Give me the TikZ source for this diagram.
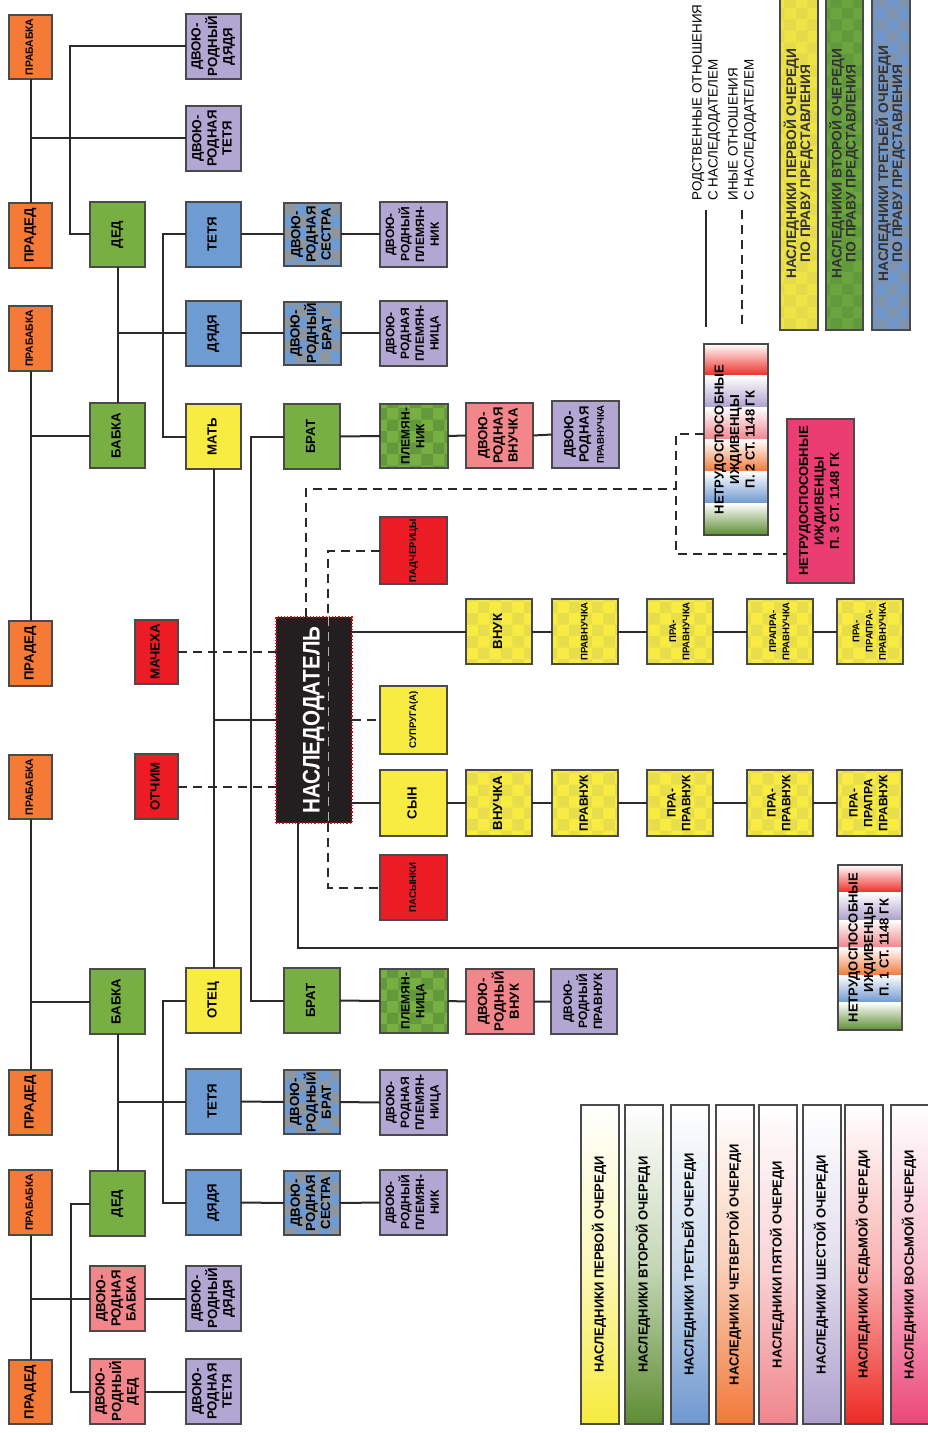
\documentclass[tikz,border=0pt]{standalone}
\usepackage{fontspec}
\setmainfont{Liberation Sans}
\usepackage{graphicx}
\usetikzlibrary{patterns}
\definecolor{cOr}{HTML}{F47A36}
\definecolor{cGr}{HTML}{78AF42}
\definecolor{cBl}{HTML}{6E9BD2}
\definecolor{cYe}{HTML}{F8EC42}
\definecolor{cLa}{HTML}{B2A6D2}
\definecolor{cPk}{HTML}{F3868B}
\definecolor{cRd}{HTML}{EC1C24}
\definecolor{cMg}{HTML}{EC3D72}
\definecolor{cBk}{HTML}{231F20}
\definecolor{cLn}{HTML}{2A2A2A}
\definecolor{cBd}{HTML}{4A4A4A}
\definecolor{pBl}{HTML}{8E96A0}
\definecolor{pGr}{HTML}{62993A}
\definecolor{pYe}{HTML}{E8DE4C}
\definecolor{tYe}{HTML}{EEE445}
\definecolor{tYp}{HTML}{E4DA4A}
\definecolor{tGr}{HTML}{6CA53F}
\definecolor{tGp}{HTML}{609A3A}
\definecolor{tBl}{HTML}{7097CC}
\definecolor{tBp}{HTML}{7F93AE}
\definecolor{gYe}{HTML}{F6EB3C}
\definecolor{gGr}{HTML}{5E8D33}
\definecolor{gBl}{HTML}{6F98CF}
\definecolor{gOr}{HTML}{F2793A}
\definecolor{gPk}{HTML}{F0858C}
\definecolor{gLa}{HTML}{ADA0CC}
\definecolor{gRd}{HTML}{EE2A24}
\definecolor{gMg}{HTML}{EC4678}
\newcommand\ftN{\fontsize{6.6}{7.6}\selectfont\bfseries}
\newcommand\ftM{\fontsize{6}{7.4}\selectfont\bfseries}
\newcommand\ftS{\fontsize{4.8}{6.6}\selectfont\bfseries}
\newcommand\ftP{\fontsize{5.2}{6}\selectfont\bfseries}
\newcommand\ftL{\fontsize{6.7}{8}\selectfont}
\newcommand\ftQ{\fontsize{6.5}{7.8}\selectfont\bfseries}
\newcommand\ftT{\fontsize{6.9}{7}\selectfont\bfseries}
\newcommand\Rt[1]{\rotatebox{90}{\begin{tabular}{@{}c@{}}#1\end{tabular}}}
\newcommand\Bx[7]{\node[bx,#2,minimum width={(#5-#3)*0.5pt},minimum height={(#6-#4)*0.5pt}] (#1) at ({(#3+#5)/2},{(#4+#6)/2}) {\Rt{#7}};}
\newcommand\Bands[4]{%
  \pgfmathsetmacro\bandh{(#4-#2)/6}%
  \foreach \bandc [count=\bandi from 0] in {gRd,gLa,gPk,gOr,gBl,gGr}{%
    \shade[top color=white,bottom color=\bandc] (#1,{#2+\bandi*\bandh}) rectangle (#3,{#2+(\bandi+1)*\bandh});}}
\begin{document}
\begin{tikzpicture}[x=0.5pt,y=-0.5pt,
  bx/.style={draw=cBd,line width=0.6pt,inner sep=0pt,outer sep=0pt,font=\ftN},
  orb/.style={fill=cOr}, grb/.style={fill=cGr}, blb/.style={fill=cBl},
  yeb/.style={fill=cYe}, lab/.style={fill=cLa}, pkb/.style={fill=cPk},
  rdb/.style={fill=cRd},
  blc/.style={preaction={fill=cBl},pattern=checkerboard,pattern color=pBl},
  grc/.style={preaction={fill=cGr},pattern=checkerboard,pattern color=pGr},
  yec/.style={preaction={fill=cYe},pattern=checkerboard,pattern color=pYe},
  tbar/.style 2 args={preaction={fill=#1},pattern=checkerboard,pattern color=#2,font=\ftT,text=black!80},
  gbar/.style={top color=white,bottom color=#1,middle color=#1!35,font=\ftQ},
  ln/.style={draw=cLn,line width=1pt},
  dl/.style={draw=cLn,line width=1pt,dash pattern=on 4.5pt off 3pt}]
\useasboundingbox (0,0) rectangle (927,1433);
\fill[white] (0,0) rectangle (927,1433);
% bus coordinates
\coordinate (x70) at (70,0);
\coordinate (x71) at (71,0);
\coordinate (x163) at (163,0);
\coordinate (x251) at (251,0);
\coordinate (x298) at (298,0);
\coordinate (x306) at (306,0);
\coordinate (x328) at (328,0);
\coordinate (x676) at (676,0);
\coordinate (y434) at (0,434);
\coordinate (y489) at (0,489);
\coordinate (y554) at (0,554);
% column A
\Bx{pb1}{orb,font=\ftP}{9}{15}{52}{79}{ПРАБАБКА}
\Bx{pd1}{orb}{9}{203}{52}{268}{ПРАДЕД}
\Bx{pb2}{orb,font=\ftP}{9}{306}{52}{371}{ПРАБАБКА}
\Bx{pd2}{orb}{9}{621}{52}{686}{ПРАДЕД}
\Bx{pb3}{orb,font=\ftP}{9}{755}{52}{819}{ПРАБАБКА}
\Bx{pd3}{orb}{9}{1070}{52}{1135}{ПРАДЕД}
\Bx{pb4}{orb,font=\ftP}{9}{1170}{52}{1235}{ПРАБАБКА}
\Bx{pd4}{orb}{9}{1360}{52}{1424}{ПРАДЕД}
% column B
\Bx{ded1}{grb}{90}{202}{145}{267}{ДЕД}
\Bx{bab1}{grb}{90}{403}{145}{468}{БАБКА}
\Bx{mach}{rdb}{135}{620}{178}{684}{МАЧЕХА}
\Bx{otch}{rdb}{135}{754}{178}{819}{ОТЧИМ}
\Bx{bab2}{grb}{90}{969}{145}{1034}{БАБКА}
\Bx{ded2}{grb}{90}{1171}{145}{1236}{ДЕД}
\Bx{dbab}{pkb}{90}{1266}{145}{1331}{ДВОЮ-\\РОДНАЯ\\БАБКА}
\Bx{dded}{pkb}{90}{1359}{145}{1424}{ДВОЮ-\\РОДНЫЙ\\ДЕД}
% column C
\Bx{ddya1}{lab}{186}{14}{241}{79}{ДВОЮ-\\РОДНЫЙ\\ДЯДЯ}
\Bx{dtet1}{lab}{186}{106}{241}{171}{ДВОЮ-\\РОДНАЯ\\ТЕТЯ}
\Bx{tet1}{blb}{186}{202}{241}{267}{ТЕТЯ}
\Bx{dya1}{blb}{186}{301}{241}{366}{ДЯДЯ}
\Bx{mat}{yeb}{186}{404}{241}{469}{МАТЬ}
\Bx{otec}{yeb}{186}{968}{241}{1033}{ОТЕЦ}
\Bx{tet2}{blb}{186}{1069}{241}{1134}{ТЕТЯ}
\Bx{dya2}{blb}{186}{1170}{241}{1235}{ДЯДЯ}
\Bx{ddya2}{lab}{186}{1266}{241}{1331}{ДВОЮ-\\РОДНЫЙ\\ДЯДЯ}
\Bx{dtet2}{lab}{186}{1359}{241}{1424}{ДВОЮ-\\РОДНАЯ\\ТЕТЯ}
% column D
\Bx{ds1}{blc}{284}{203}{341}{266}{ДВОЮ-\\РОДНАЯ\\СЕСТРА}
\Bx{db1}{blc}{284}{302}{341}{365}{ДВОЮ-\\РОДНЫЙ\\БРАТ}
\Bx{br1}{grb}{284}{404}{340}{469}{БРАТ}
\Bx{br2}{grb}{284}{968}{340}{1033}{БРАТ}
\Bx{db2}{blc}{284}{1070}{340}{1134}{ДВОЮ-\\РОДНЫЙ\\БРАТ}
\Bx{ds2}{blc}{284}{1171}{340}{1235}{ДВОЮ-\\РОДНАЯ\\СЕСТРА}
% column E
\Bx{dpl1}{lab,font=\ftM}{380}{202}{447}{267}{ДВОЮ-\\РОДНЫЙ\\ПЛЕМЯН-\\НИК}
\Bx{dpl2}{lab,font=\ftM}{380}{301}{447}{366}{ДВОЮ-\\РОДНАЯ\\ПЛЕМЯН-\\НИЦА}
\Bx{pl1}{grc,font=\ftM}{380}{404}{448}{468}{ПЛЕМЯН-\\НИК}
\Bx{padch}{rdb,font=\ftS}{380}{517}{447}{584}{ПАДЧЕРИЦЫ}
\Bx{supr}{yeb,font=\ftS}{380}{686}{447}{754}{СУПРУГА(А)}
\Bx{syn}{yeb}{380}{770}{447}{836}{СЫН}
\Bx{pas}{rdb,font=\ftS}{380}{855}{447}{920}{ПАСЫНКИ}
\Bx{pl2}{grc,font=\ftM}{380}{969}{448}{1033}{ПЛЕМЯН-\\НИЦА}
\Bx{dpl3}{lab,font=\ftM}{380}{1070}{447}{1135}{ДВОЮ-\\РОДНАЯ\\ПЛЕМЯН-\\НИЦА}
\Bx{dpl4}{lab,font=\ftM}{380}{1170}{447}{1235}{ДВОЮ-\\РОДНЫЙ\\ПЛЕМЯН-\\НИК}
% column F..J
\Bx{dvn1}{pkb}{466}{403}{533}{468}{ДВОЮ-\\РОДНАЯ\\ВНУЧКА}
\Bx{dpr1}{lab}{552}{401}{619}{468}{ДВОЮ-\\РОДНАЯ\\{\ftS ПРАВНУЧКА}}
\Bx{dvn2}{pkb}{466}{969}{534}{1034}{ДВОЮ-\\РОДНЫЙ\\ВНУК}
\Bx{dpr2}{lab,font=\ftM}{551}{969}{617}{1034}{ДВОЮ-\\РОДНЫЙ\\ПРАВНУК}
\Bx{vnuk}{yec}{466}{599}{532}{664}{ВНУК}
\Bx{pr1}{yec,font=\ftS}{552}{599}{618}{664}{ПРАВНУЧКА}
\Bx{ppr1}{yec,font=\ftS}{647}{599}{713}{664}{ПРА-\\ПРАВНУЧКА}
\Bx{pppr1}{yec,font=\ftS}{747}{599}{813}{664}{ПРАПРА-\\ПРАВНУЧКА}
\Bx{p4r1}{yec,font=\ftS}{837}{599}{903}{664}{ПРА-\\ПРАПРА-\\ПРАВНУЧКА}
\Bx{vnuchka}{yec}{466}{770}{532}{836}{ВНУЧКА}
\Bx{pr2}{yec,font=\ftM}{552}{770}{618}{836}{ПРАВНУК}
\Bx{ppr2}{yec,font=\ftM}{647}{770}{713}{836}{ПРА-\\ПРАВНУК}
\Bx{pppr2}{yec,font=\ftM}{747}{770}{813}{836}{ПРА-\\ПРАВНУК}
\Bx{p4r2}{yec,font=\ftM}{837}{770}{902}{836}{ПРА-\\ПРАПРА\\ПРАВНУК}
% disabled dependants
\Bands{704}{344}{768}{535}
\Bx{n2}{font=\ftQ}{704}{344}{768}{535}{НЕТРУДОСПОСОБНЫЕ\\ИЖДИВЕНЦЫ\\П. 2 СТ. 1148 ГК}
\Bx{n3}{fill=cMg,font=\ftQ}{787}{419}{854}{583}{НЕТРУДОСПОСОБНЫЕ\\ИЖДИВЕНЦЫ\\П. 3 СТ. 1148 ГК}
\Bands{838}{865}{902}{1030}
\Bx{n1}{font=\ftQ}{838}{865}{902}{1030}{НЕТРУДОСПОСОБНЫЕ\\ИЖДИВЕНЦЫ\\П. 1 СТ. 1148 ГК}
% testator
\draw[dl] (padch.west) -- (padch.west -| x328) -- (x328 |- 0,617);
\draw[dl] (x328 |- 0,823) -- (pas.west -| x328) -- (pas.west);
\Bx{nasl}{fill=cBk,draw=red,densely dotted,line width=1.2pt,text=white,font=\fontsize{12}{14}\selectfont\bfseries}{276}{617}{352}{823}{\scalebox{0.86}[1]{НАСЛЕДОДАТЕЛЬ}}
\draw[draw=gray!60,line width=0.5pt,dash pattern=on 4.5pt off 3pt] (x328 |- nasl.north) -- (x328 |- nasl.south);
% legends
\node[anchor=south west,inner sep=0pt,font=\ftL] (leg1) at (690,201) {\rotatebox{90}{\begin{tabular}{@{}l@{}}РОДСТВЕННЫЕ ОТНОШЕНИЯ\\С НАСЛЕДОДАТЕЛЕМ\end{tabular}}};
\node[anchor=south west,inner sep=0pt,font=\ftL] (leg2) at (726,201) {\rotatebox{90}{\begin{tabular}{@{}l@{}}ИНЫЕ ОТНОШЕНИЯ\\С НАСЛЕДОДАТЕЛЕМ\end{tabular}}};
\draw[ln] (leg1.south) ++(0,9) -- ++(0,117);
\draw[dl] (leg2.south) ++(0,9) -- ++(0,117);
\Bx{tb1}{tbar={tYe}{tYp}}{780}{-3}{818}{330}{НАСЛЕДНИКИ ПЕРВОЙ ОЧЕРЕДИ\\ПО ПРАВУ ПРЕДСТАВЛЕНИЯ}
\Bx{tb2}{tbar={tGr}{tGp}}{826}{-3}{863}{330}{НАСЛЕДНИКИ ВТОРОЙ ОЧЕРЕДИ\\ПО ПРАВУ ПРЕДСТАВЛЕНИЯ}
\Bx{tb3}{tbar={tBl}{tBp}}{872}{-3}{910}{330}{НАСЛЕДНИКИ ТРЕТЬЕЙ ОЧЕРЕДИ\\ПО ПРАВУ ПРЕДСТАВЛЕНИЯ}
\Bx{lg1}{gbar=gYe}{581}{1105}{619}{1424}{НАСЛЕДНИКИ ПЕРВОЙ ОЧЕРЕДИ}
\Bx{lg2}{gbar=gGr}{625}{1105}{663}{1424}{НАСЛЕДНИКИ ВТОРОЙ ОЧЕРЕДИ}
\Bx{lg3}{gbar=gBl}{671}{1105}{709}{1424}{НАСЛЕДНИКИ ТРЕТЬЕЙ ОЧЕРЕДИ}
\Bx{lg4}{gbar=gOr}{716}{1105}{754}{1424}{НАСЛЕДНИКИ ЧЕТВЕРТОЙ ОЧЕРЕДИ}
\Bx{lg5}{gbar=gPk}{759}{1105}{797}{1424}{НАСЛЕДНИКИ ПЯТОЙ ОЧЕРЕДИ}
\Bx{lg6}{gbar=gLa}{803}{1105}{841}{1424}{НАСЛЕДНИКИ ШЕСТОЙ ОЧЕРЕДИ}
\Bx{lg7}{gbar=gRd}{845}{1105}{883}{1424}{НАСЛЕДНИКИ СЕДЬМОЙ ОЧЕРЕДИ}
\Bx{lg8}{gbar=gMg}{891}{1105}{929}{1424}{НАСЛЕДНИКИ ВОСЬМОЙ ОЧЕРЕДИ}
% connectors, upper family
\draw[ln] (pb1.south) -- (pd1.north);
\draw[ln] (dtet1.west) -- (dtet1.west -| pb1.south);
\draw[ln] (ddya1.west) -- (ddya1.west -| x70) -- (ded1.west -| x70) -- (ded1.west);
\draw[ln] (ded1.south) -- (bab1.north);
\draw[ln] (dya1.west) -- (dya1.west -| ded1.south);
\draw[ln] (pb2.south) -- (pd2.north);
\draw[ln] (bab1.west) -- (bab1.west -| pb2.south);
\draw[ln] (tet1.west) -- (tet1.west -| x163) -- (mat.west -| x163) -- (mat.west);
\draw[ln] (tet1.east) -- (ds1.west) (ds1.east) -- (dpl1.west);
\draw[ln] (dya1.east) -- (db1.west) (db1.east) -- (dpl2.west);
\draw[ln] (mat.south) -- (otec.north);
\draw[ln] (br1.west) -- (br1.west -| x251) -- (br2.west -| x251) -- (br2.west);
\draw[ln] (br1.east) -- (pl1.west) (pl1.east) -- (dvn1.west) (dvn1.east) -- (dpr1.west);
\draw[ln] (br2.east) -- (pl2.west) (pl2.east) -- (dvn2.west) (dvn2.east) -- (dpr2.west);
% connectors around testator
\draw[ln] (mat.south |- nasl.west) -- (nasl.west);
\draw[dl] (mach.east) -- (mach.east -| nasl.west);
\draw[dl] (otch.east) -- (otch.east -| nasl.west);
\draw[dl] (nasl.north -| x306) -- (x306 |- y489) -- (x676 |- y489);
\draw[dl] (n2.west |- y434) -- (x676 |- y434) -- (x676 |- y554) -- (n3.west |- y554);
\draw[dl] (supr.west -| nasl.east) -- (supr.west);
\draw[ln] (vnuk.west -| nasl.east) -- (vnuk.west) (vnuk.east) -- (pr1.west) (pr1.east) -- (ppr1.west) (ppr1.east) -- (pppr1.west) (pppr1.east) -- (p4r1.west);
\draw[ln] (syn.west -| nasl.east) -- (syn.west) (syn.east) -- (vnuchka.west) (vnuchka.east) -- (pr2.west) (pr2.east) -- (ppr2.west) (ppr2.east) -- (pppr2.west) (pppr2.east) -- (p4r2.west);
\draw[ln] (nasl.south -| x298) -- (x298 |- n1.west) -- (n1.west);
% connectors, lower family
\draw[ln] (pb3.south) -- (pd3.north);
\draw[ln] (bab2.west) -- (bab2.west -| pb3.south);
\draw[ln] (bab2.south) -- (ded2.north);
\draw[ln] (tet2.west) -- (tet2.west -| bab2.south);
\draw[ln] (otec.west) -- (otec.west -| x163) -- (dya2.west -| x163) -- (dya2.west);
\draw[ln] (tet2.east) -- (db2.west) (db2.east) -- (dpl3.west);
\draw[ln] (dya2.east) -- (ds2.west) (ds2.east) -- (dpl4.west);
\draw[ln] (pb4.south) -- (pd4.north);
\draw[ln] (dbab.west) -- (dbab.west -| pb4.south);
\draw[ln] (dbab.east) -- (ddya2.west);
\draw[ln] (ded2.west) -- (ded2.west -| x71) -- (dded.west -| x71) -- (dded.west);
\draw[ln] (dded.east) -- (dtet2.west);
\end{tikzpicture}
\end{document}
